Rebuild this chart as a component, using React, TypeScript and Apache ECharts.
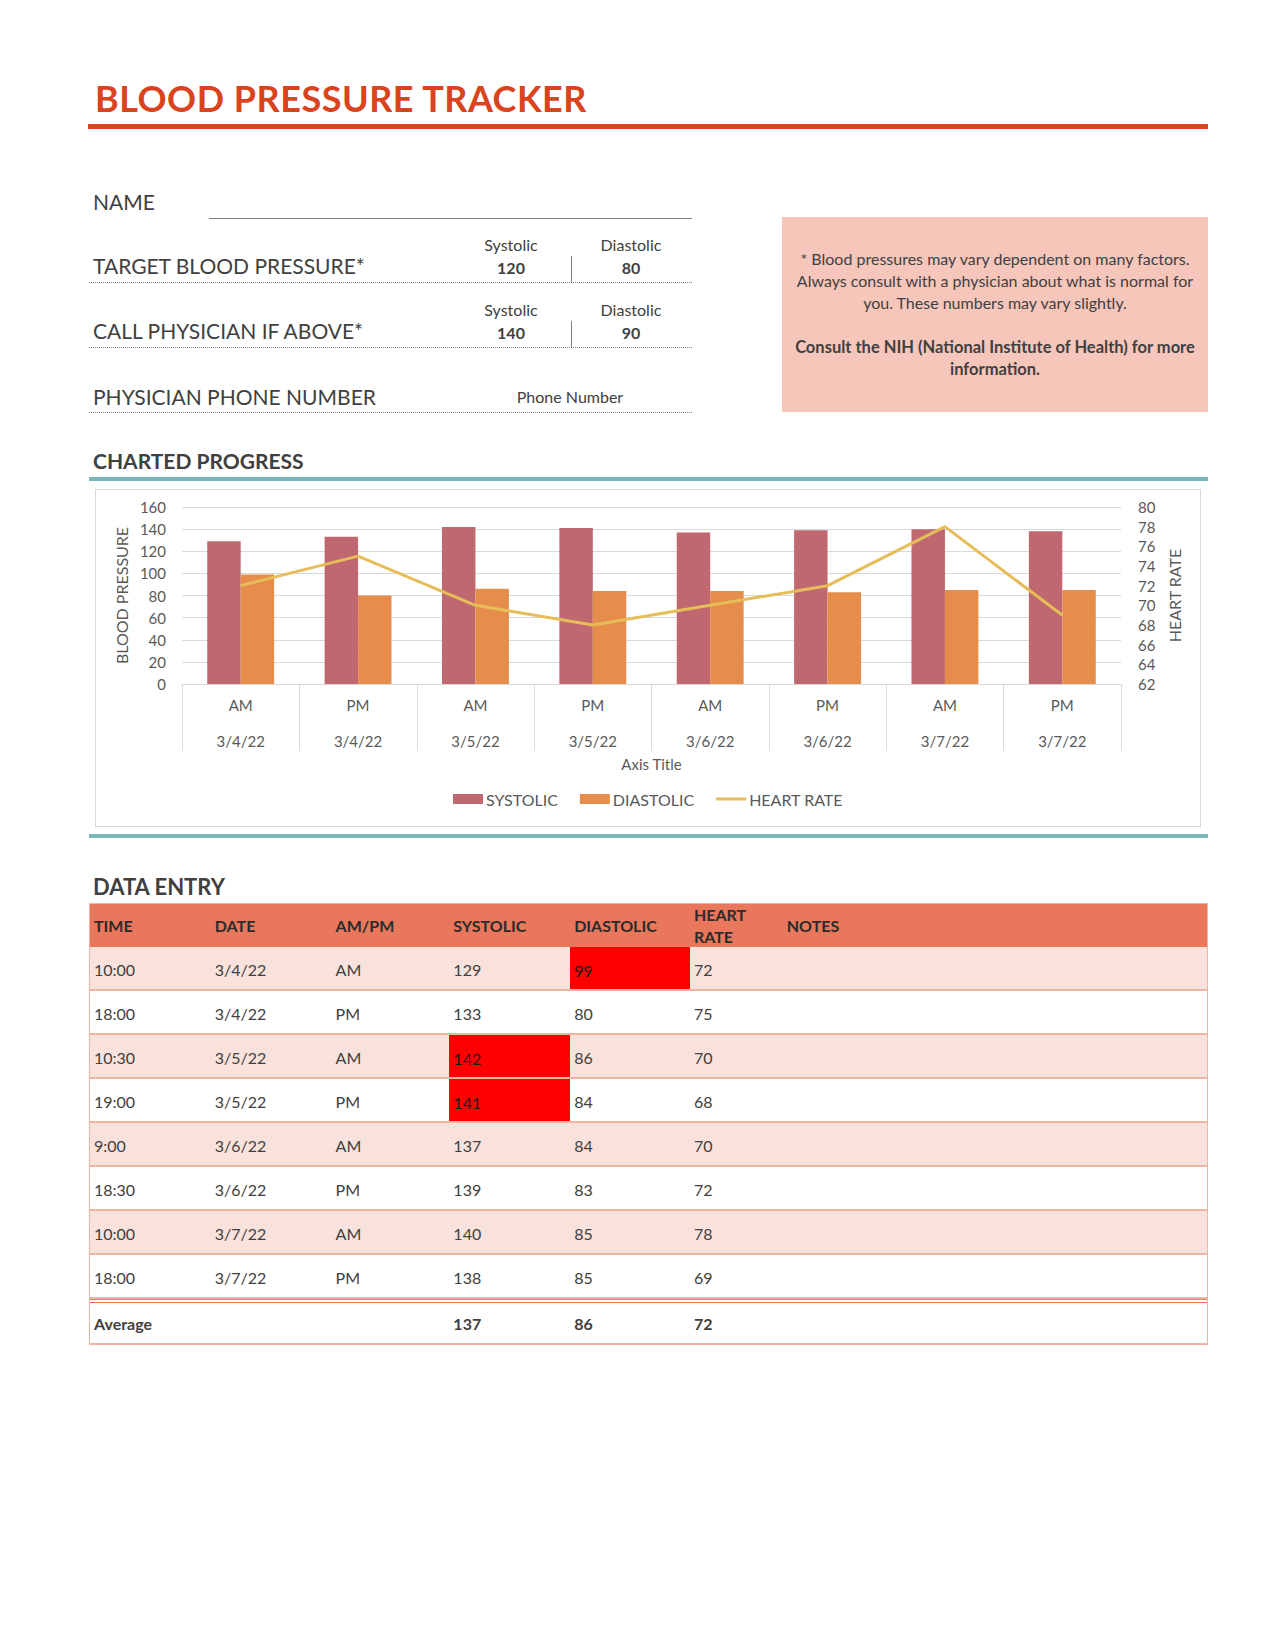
import React, { useEffect, useRef } from "react";
import * as echarts from "echarts";

// ---------- data ----------
const ampm = ["AM", "PM", "AM", "PM", "AM", "PM", "AM", "PM"];
const dates = ["3/4/22", "3/4/22", "3/5/22", "3/5/22", "3/6/22", "3/6/22", "3/7/22", "3/7/22"];
const times = ["10:00", "18:00", "10:30", "19:00", "9:00", "18:30", "10:00", "18:00"];
const systolic = [129, 133, 142, 141, 137, 139, 140, 138];
const diastolic = [99, 80, 86, 84, 84, 83, 85, 85];
const heartRate = [72, 75, 70, 68, 70, 72, 78, 69];
const averages = ["137", "86", "72"];
const seriesNames = ["SYSTOLIC", "DIASTOLIC", "HEART RATE"];
const tableHeaders = ["TIME", "DATE", "AM/PM", "SYSTOLIC", "DIASTOLIC", "HEART\nRATE", "NOTES"];
const targetBP = { systolic: "120", diastolic: "80" };
const callAbove = { systolic: "140", diastolic: "90" };
const bpAxisRange = { min: 0, max: 160, interval: 20 };
const hrAxisRange = { min: 62, max: 80, interval: 2 };

// ---------- styles ----------
const FONT = "Lato, 'Open Sans', 'Noto Sans', sans-serif";
const TEXT = "#404040";
const AXIS_TEXT = "#595959";
const GRID = "#D9D9D9";
const C_SYS = "#C0686F";
const C_DIA = "#E68D4B";
const C_HR = "#E7BD5A";
const ORANGE = "#D9441E";
const TEAL = "#7AB7B8";
const PINK_BOX = "#F7C6BB";
const HEAD_BG = "#E9775C";
const ROW_ALT = "#FAE2DC";
const ROW_LINE = "#F3B3A3";

const colWidths = [121, 121, 118, 121, 120, 93, 425];

function Chart() {
  const ref = useRef<HTMLDivElement>(null);
  useEffect(() => {
    if (!ref.current) return;
    const chart = echarts.init(ref.current, undefined, { renderer: "svg" });
    const cats = ampm.map((a, i) => `${a}\n${dates[i]}`);
    chart.setOption({
      animation: false,
      textStyle: { fontFamily: FONT },
      grid: { left: 86, right: 79, top: 17, bottom: 142 },
      legend: {
        data: [
          { name: seriesNames[0], icon: "rect" },
          { name: seriesNames[1], icon: "rect" },
          { name: seriesNames[2], icon: "path://M0,0 L30,0 L30,3 L0,3 Z" },
        ],
        top: 296,
        left: "center",
        itemWidth: 30,
        itemHeight: 10,
        itemGap: 22,
        textStyle: { fontSize: 16, color: AXIS_TEXT, fontFamily: FONT, padding: [0, 0, 0, -2] },
      },
      xAxis: {
        type: "category",
        data: cats,
        axisLine: { show: true, lineStyle: { color: GRID, width: 1 } },
        axisTick: { show: true, length: 67, lineStyle: { color: GRID } },
        axisLabel: {
          margin: 3,
          interval: 0,
          formatter: (v: string) => {
            const [a, b] = v.split("\n");
            return `{a|${a}}\n{b|${b}}`;
          },
          rich: {
            a: { fontSize: 15, lineHeight: 36, color: AXIS_TEXT, fontFamily: FONT },
            b: { fontSize: 15, lineHeight: 36, color: AXIS_TEXT, fontFamily: FONT },
          },
        },
        name: "Axis Title",
        nameLocation: "middle",
        nameGap: 72,
        nameTextStyle: { fontSize: 15, color: AXIS_TEXT, fontFamily: FONT },
      },
      yAxis: [
        {
          type: "value",
          min: bpAxisRange.min,
          max: bpAxisRange.max,
          interval: bpAxisRange.interval,
          axisLine: { show: false },
          axisTick: { show: false },
          axisLabel: { margin: 16, fontSize: 15, color: AXIS_TEXT, fontFamily: FONT },
          splitLine: { show: true, lineStyle: { color: GRID, width: 1 } },
          name: "BLOOD PRESSURE",
          nameLocation: "middle",
          nameGap: 52,
          nameRotate: 90,
          nameTextStyle: { fontSize: 16, color: AXIS_TEXT, fontFamily: FONT },
        },
        {
          type: "value",
          min: hrAxisRange.min,
          max: hrAxisRange.max,
          interval: hrAxisRange.interval,
          position: "right",
          axisLine: { show: false },
          axisTick: { show: false },
          axisLabel: { margin: 17, fontSize: 15, color: AXIS_TEXT, fontFamily: FONT },
          splitLine: { show: false },
          name: "HEART RATE",
          nameLocation: "middle",
          nameGap: 40,
          nameRotate: 90,
          nameTextStyle: { fontSize: 16, color: AXIS_TEXT, fontFamily: FONT },
        },
      ],
      series: [
        {
          name: seriesNames[0],
          type: "bar",
          data: systolic,
          yAxisIndex: 0,
          itemStyle: { color: C_SYS },
          barGap: "0%",
          barCategoryGap: "43%",
        },
        {
          name: seriesNames[1],
          type: "bar",
          data: diastolic,
          yAxisIndex: 0,
          itemStyle: { color: C_DIA },
          barGap: "0%",
          barCategoryGap: "43%",
        },
        {
          name: seriesNames[2],
          type: "line",
          data: heartRate,
          yAxisIndex: 1,
          symbol: "none",
          lineStyle: { color: C_HR, width: 3 },
          itemStyle: { color: C_HR },
        },
      ],
    });
    return () => chart.dispose();
  }, []);
  return <div ref={ref} style={{ position: "absolute", left: 0, top: 0, width: 1104, height: 336 }} />;
}

const abs = (x: number, y: number, extra: React.CSSProperties = {}): React.CSSProperties => ({
  position: "absolute",
  left: x,
  top: y,
  ...extra,
});

function CenterText({ cx, cy, children, size = 16, bold = false }: any) {
  return (
    <div
      style={{
        position: "absolute",
        left: cx - 60,
        top: cy - 12,
        width: 120,
        height: 24,
        lineHeight: "24px",
        textAlign: "center",
        fontSize: size,
        fontWeight: bold ? 700 : 400,
        color: TEXT,
        whiteSpace: "nowrap",
      }}
    >
      {children}
    </div>
  );
}

function Label({ x, cy, children, size = 21, bold = false, color = TEXT }: any) {
  return (
    <div
      style={{
        position: "absolute",
        left: x,
        top: cy - 15,
        height: 30,
        lineHeight: "30px",
        fontSize: size,
        fontWeight: bold ? 700 : 400,
        color,
        whiteSpace: "nowrap",
      }}
    >
      {children}
    </div>
  );
}

const dotted = (y: number): React.CSSProperties => ({
  position: "absolute",
  left: 89,
  top: y,
  width: 603,
  height: 0,
  borderTop: "1px dotted #7F7F7F",
});

function BPRow({ label, cyLabel, cyHead, cyVal, sepTop, lineY, values }: any) {
  return (
    <>
      <Label x={93} cy={cyLabel}>{label}</Label>
      <CenterText cx={511} cy={cyHead}>Systolic</CenterText>
      <CenterText cx={631} cy={cyHead}>Diastolic</CenterText>
      <CenterText cx={511} cy={cyVal} bold>{values.systolic}</CenterText>
      <CenterText cx={631} cy={cyVal} bold>{values.diastolic}</CenterText>
      <div style={abs(571, sepTop, { width: 1, height: lineY - sepTop, background: "#7F7F7F" })} />
      <div style={dotted(lineY)} />
    </>
  );
}

function Table() {
  const rows = times.map((t, i) => [t, dates[i], ampm[i], String(systolic[i]), String(diastolic[i]), String(heartRate[i]), ""]);
  const cell = (w: number, extra: React.CSSProperties = {}): React.CSSProperties => ({
    width: w,
    boxSizing: "border-box",
    paddingLeft: 4,
    display: "flex",
    alignItems: "center",
    ...extra,
  });
  return (
    <div style={abs(89, 903, { width: 1119, borderLeft: `1px solid ${ROW_LINE}`, borderRight: `1px solid ${ROW_LINE}`, boxSizing: "border-box", fontSize: 16, color: TEXT })}>
      <div style={{ display: "flex", height: 44, background: HEAD_BG, borderTop: `1px solid ${ROW_LINE}`, boxSizing: "border-box" }}>
        {tableHeaders.map((h, j) => (
          <div key={j} style={cell(colWidths[j], { fontWeight: 700, color: "#2B2B2B", lineHeight: "22px", whiteSpace: "pre-line" })}>
            {h}
          </div>
        ))}
      </div>
      {rows.map((r, i) => (
        <div
          key={i}
          style={{
            display: "flex",
            height: 44,
            background: i % 2 === 0 ? ROW_ALT : "#FFFFFF",
            borderBottom: `2px solid ${ROW_LINE}`,
            boxSizing: "border-box",
          }}
        >
          {r.map((v, j) => {
            const red = (j === 3 && systolic[i] > Number(callAbove.systolic)) || (j === 4 && diastolic[i] > Number(callAbove.diastolic));
            return (
              <div key={j} style={cell(colWidths[j], red ? { background: "#FF0000", color: "#1A1A1A", paddingTop: 4 } : { paddingTop: 2 })}>
                {v}
              </div>
            );
          })}
        </div>
      ))}
      <div
        style={{
          display: "flex",
          height: 46,
          borderTop: `4px double ${HEAD_BG}`,
          borderBottom: `2px solid ${ROW_LINE}`,
          boxSizing: "border-box",
          fontWeight: 700,
        }}
      >
        <div style={cell(colWidths[0] + colWidths[1] + colWidths[2])}>Average</div>
        <div style={cell(colWidths[3])}>{averages[0]}</div>
        <div style={cell(colWidths[4])}>{averages[1]}</div>
        <div style={cell(colWidths[5])}>{averages[2]}</div>
        <div style={cell(colWidths[6])}></div>
      </div>
    </div>
  );
}

export default function App() {
  return (
    <div style={{ position: "absolute", left: 0, top: 0, width: 1275, height: 1650, background: "#fff", fontFamily: FONT, color: TEXT }}>
      {/* Title */}
      <div style={abs(95, 75, { fontSize: 36, fontWeight: 700, color: ORANGE, lineHeight: "46px", letterSpacing: 0.5, whiteSpace: "nowrap" })}>
        BLOOD PRESSURE TRACKER
      </div>
      <div style={abs(88, 124, { width: 1120, height: 5, background: ORANGE })} />

      {/* Form */}
      <Label x={93} cy={202}>NAME</Label>
      <div style={abs(209, 218, { width: 483, height: 1, background: "#7F7F7F" })} />

      <BPRow label="TARGET BLOOD PRESSURE*" cyLabel={266} cyHead={245} cyVal={268} sepTop={256} lineY={282} values={targetBP} />
      <BPRow label="CALL PHYSICIAN IF ABOVE*" cyLabel={331} cyHead={310} cyVal={333} sepTop={321} lineY={347} values={callAbove} />

      <Label x={93} cy={397}>PHYSICIAN PHONE NUMBER</Label>
      <CenterText cx={570} cy={397}>Phone Number</CenterText>
      <div style={dotted(412)} />

      {/* Note box */}
      <div
        style={abs(782, 217, {
          width: 426,
          height: 195,
          background: PINK_BOX,
          boxSizing: "border-box",
          padding: "31px 4px 0 4px",
          textAlign: "center",
          fontSize: 16,
          lineHeight: "22px",
          color: TEXT,
        })}
      >
        <div>* Blood pressures may vary dependent on many factors. Always consult with a physician about what is normal for you. These numbers may vary slightly.</div>
        <div style={{ height: 22 }} />
        <div style={{ fontWeight: 700, fontSize: 16.5 }}>Consult the NIH (National Institute of Health) for more information.</div>
      </div>

      {/* Charted progress */}
      <Label x={93} cy={461} bold size={21}>CHARTED PROGRESS</Label>
      <div style={abs(89, 477, { width: 1119, height: 4, background: TEAL })} />
      <div style={abs(95, 489, { width: 1106, height: 338, border: `1px solid ${GRID}`, boxSizing: "border-box" })}>
        <Chart />
      </div>
      <div style={abs(89, 834, { width: 1119, height: 4, background: TEAL })} />

      {/* Data entry */}
      <Label x={93} cy={887} bold size={22}>DATA ENTRY</Label>
      <Table />
    </div>
  );
}
